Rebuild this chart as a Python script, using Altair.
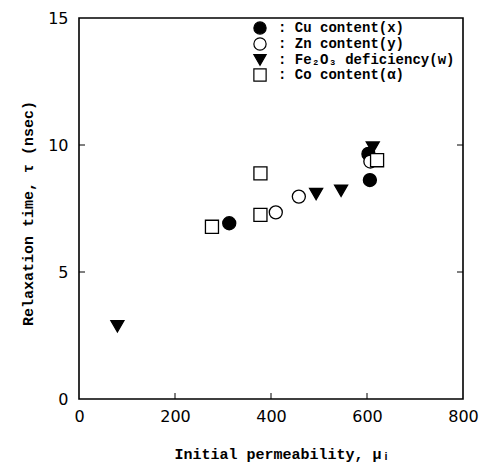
import altair as alt
import pandas as pd

series = ["Cu content(x)", "Zn content(y)", "Fe₂O₃ deficiency(w)", "Co content(α)"]
shapes = ["circle", "circle", "triangle-down", "square"]
fills = ["black", "white", "black", "white"]

cu_x = [313, 606, 603]
cu_y = [6.92, 8.62, 9.65]
zn_x = [410, 458, 607]
zn_y = [7.35, 7.97, 9.35]
fe_x = [80, 494, 546, 612]
fe_y = [2.86, 8.07, 8.2, 9.9]
co_x = [277, 378, 378, 621]
co_y = [6.78, 7.25, 8.88, 9.4]

x_tick_vals = [0, 200, 400, 600, 800]
y_tick_vals = [0, 5, 10, 15]
x_inner = [200, 400, 600]
y_inner = [5, 10]

draw_order = [1, 2, 0, 3]
rows = []
for name, xs, ys, o in zip(series, [cu_x, zn_x, fe_x, co_x], [cu_y, zn_y, fe_y, co_y], draw_order):
    for xv, yv in zip(xs, ys):
        rows.append({"series": name, "perm": xv, "tau": yv, "o": o})
df = pd.DataFrame(rows)

W, H = 384, 381
xscale = alt.Scale(domain=[0, 800], nice=False, zero=False)
yscale = alt.Scale(domain=[0, 15], nice=False, zero=False)

xaxis = alt.Axis(values=x_tick_vals, title="Initial permeability, μᵢ", labelFlush=False,
                 titleX=203, titleY=47, titleBaseline="top", labelPadding=9)
yaxis = alt.Axis(values=y_tick_vals, title="Relaxation time, τ (nsec)", labelFlush=False,
                 titleAngle=-90, titleX=-52, titleY=195,
                 titleAlign="center", titleBaseline="middle", labelPadding=11)

leg = alt.Legend(
    title=None, orient="none", legendX=174, legendY=3,
    labelExpr="': ' + datum.label", labelLimit=400,
    labelFont="Liberation Mono", labelFontSize=14, labelFontWeight="bold",
    labelColor="black", symbolStrokeColor="black", symbolStrokeWidth=1.2,
    symbolSize=150, rowPadding=-2, labelOffset=11,
)

points = alt.Chart(df).mark_point(
    filled=True, strokeWidth=1.3, opacity=1, size=170
).encode(
    x=alt.X("perm:Q", scale=xscale, axis=xaxis),
    y=alt.Y("tau:Q", scale=yscale, axis=yaxis),
    shape=alt.Shape("series:N", scale=alt.Scale(domain=series, range=shapes), legend=leg),
    fill=alt.Fill("series:N", scale=alt.Scale(domain=series, range=fills), legend=leg),
    stroke=alt.Stroke("series:N", scale=alt.Scale(domain=series, range=["black"] * 4), legend=leg),
    order=alt.Order("o:Q"),
)

xt = pd.DataFrame({"perm": x_inner})
yt = pd.DataFrame({"tau": y_inner})

xticks = alt.Chart(xt).mark_rule(color="black", strokeWidth=1).encode(
    x=alt.X("perm:Q", scale=xscale, axis=xaxis), y=alt.value(H), y2=alt.value(H - 6)
)
yticks_l = alt.Chart(yt).mark_rule(color="black", strokeWidth=1).encode(
    y=alt.Y("tau:Q", scale=yscale, axis=yaxis), x=alt.value(0), x2=alt.value(6)
)
yticks_r = alt.Chart(yt).mark_rule(color="black", strokeWidth=1).encode(
    y=alt.Y("tau:Q", scale=yscale, axis=yaxis), x=alt.value(W), x2=alt.value(W - 6)
)

chart = alt.layer(points, xticks, yticks_l, yticks_r).properties(
    width=W, height=H,
    autosize=alt.AutoSizeParams(type="none"),
    padding={"left": 79, "top": 18, "right": 19, "bottom": 68},
    background="white",
).configure_view(
    stroke="black", strokeWidth=1.6
).configure_axis(
    domain=False, ticks=False, grid=False,
    labelFont="DejaVu Sans", labelFontSize=16, labelColor="black",
    titleFont="Liberation Mono", titleFontSize=15, titleFontWeight="bold", titleColor="black",
)

chart.save("out.html", embed_options={"renderer": "svg", "actions": False})
